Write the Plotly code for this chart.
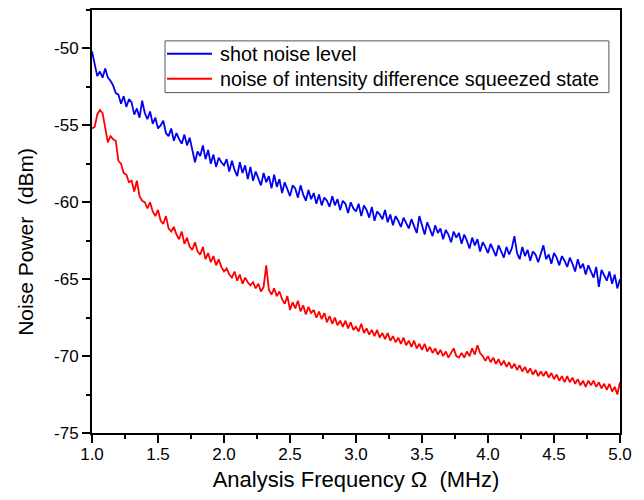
import plotly.graph_objects as go

freq = [round(1.0 + 0.02 * i, 2) for i in range(201)]

shot_noise = [
    -50.2, -51.0, -51.8, -51.5, -51.9, -51.3, -51.9, -52.1, -52.4, -52.9,
    -53.0, -53.6, -53.1, -53.8, -53.3, -53.5, -54.3, -53.9, -54.5, -53.4,
    -54.2, -54.6, -54.1, -54.9, -54.5, -55.2, -55.0, -54.7, -55.5, -55.7,
    -55.2, -56.0, -55.5, -55.9, -56.2, -55.6, -56.3, -55.8, -56.6, -57.4,
    -56.7, -57.0, -56.3, -57.2, -56.6, -57.5, -56.9, -57.7, -57.1, -57.4,
    -57.6, -57.2, -58.0, -57.3, -57.9, -58.3, -57.4, -58.1, -57.6, -58.5,
    -57.7, -58.6, -58.0, -58.4, -58.9, -58.1, -58.7, -58.3, -59.1, -58.2,
    -59.0, -58.5, -59.4, -58.7, -59.2, -59.6, -58.9, -59.1, -59.7, -58.9,
    -59.5, -59.9, -59.2, -59.8, -59.4, -60.1, -59.5, -60.2, -59.7, -59.9,
    -60.3, -59.6, -60.2, -59.8, -60.5, -59.9, -60.1, -60.7, -60.0, -60.4,
    -60.6, -60.1, -60.9, -60.2, -60.5, -61.0, -60.3, -61.2, -60.6, -60.8,
    -61.1, -60.5, -61.3, -60.8, -61.5, -60.9, -61.2, -61.6, -61.0, -61.4,
    -61.7, -61.1, -61.5, -62.0, -60.9, -61.6, -62.1, -61.3, -61.8, -62.2,
    -61.5, -62.0, -61.7, -62.4, -61.8, -62.1, -62.6, -61.9, -62.3, -62.0,
    -62.7, -62.1, -62.5, -63.0, -62.3, -62.8, -62.4, -63.2, -62.6, -62.9,
    -63.3, -62.7, -63.1, -63.5, -62.8, -63.2, -63.6, -62.9, -63.4, -63.0,
    -62.2, -63.3, -63.7, -62.9, -63.5, -63.1, -63.8, -63.2, -63.4, -63.9,
    -63.3, -62.8, -63.7, -63.4, -64.0, -63.3, -63.6, -64.1, -63.5, -63.8,
    -64.2, -63.6, -64.0, -64.5, -63.7, -64.3, -64.0, -64.7, -64.1, -64.5,
    -64.9, -64.2, -65.5, -64.4, -64.8, -65.1, -64.5, -65.3, -64.7, -65.6,
    -65.0,
]

squeezed = [
    -55.2, -55.1, -54.3, -54.0, -54.2, -55.3, -56.1, -55.7, -55.9, -56.0,
    -57.3, -57.5, -58.1, -58.2, -58.7, -58.6, -59.3, -58.6, -59.6, -59.9,
    -60.0, -60.4, -60.0, -60.6, -60.9, -60.5, -61.2, -61.4, -60.9, -61.7,
    -61.9, -61.6, -62.1, -62.4, -61.9, -62.7, -62.3, -62.9, -63.1, -62.6,
    -63.2, -63.4, -62.9, -63.7, -63.3, -63.9, -63.5, -64.1, -63.7, -64.2,
    -64.5, -64.3, -64.7, -64.9, -64.5, -65.1, -64.7, -65.3, -64.9, -65.2,
    -65.4, -65.2, -65.6, -65.3, -65.8, -65.5, -64.1, -65.7, -66.0, -65.6,
    -66.1, -65.8, -66.3, -66.6, -66.1, -67.0, -66.5, -66.9, -66.4, -67.1,
    -66.7, -67.3, -66.8, -67.2, -67.0, -67.5, -67.1, -67.6, -67.2, -67.8,
    -67.4, -67.9, -67.5, -68.0, -67.7, -68.1, -67.7, -68.2, -67.8, -68.3,
    -68.1, -68.4, -67.9, -68.5, -68.2, -68.6, -68.3, -68.7, -68.3, -68.8,
    -68.5, -68.9, -68.5, -69.0, -68.7, -69.1, -68.8, -69.2, -68.8, -69.3,
    -69.0, -69.4, -69.0, -69.5, -69.2, -69.6, -69.2, -69.7, -69.4, -69.8,
    -69.5, -69.9, -69.6, -70.0, -69.7, -70.1, -69.8, -69.5, -70.0, -70.1,
    -69.8, -70.1, -69.7, -70.0, -69.5, -69.9, -69.3, -69.8, -70.0, -70.3,
    -70.0, -70.4, -70.1, -70.5, -70.2, -70.6, -70.3, -70.7, -70.4, -70.8,
    -70.5, -70.9, -70.6, -71.0, -70.7, -71.1, -70.8, -71.2, -70.9, -71.3,
    -71.0, -71.3, -71.0, -71.4, -71.1, -71.5, -71.2, -71.6, -71.3, -71.7,
    -71.3, -71.7, -71.4, -71.8, -71.5, -71.9, -71.6, -72.0, -71.6, -71.9,
    -71.6, -72.0, -71.7, -72.1, -71.8, -72.2, -71.8, -72.3, -72.0, -72.5,
    -71.7,
]

series_names = ["shot noise level", "noise of intensity difference squeezed state"]
series_colors = ["#0000ee", "#ff0000"]

x_ticks = [1.0, 1.5, 2.0, 2.5, 3.0, 3.5, 4.0, 4.5, 5.0]
x_labels = ["1.0", "1.5", "2.0", "2.5", "3.0", "3.5", "4.0", "4.5", "5.0"]
y_ticks = [-75, -70, -65, -60, -55, -50]
y_labels = ["-75", "-70", "-65", "-60", "-55", "-50"]

x_title = "Analysis Frequency Ω  (MHz)"
y_title = "Noise Power  (dBm)"

font_family = "Liberation Sans, Arial, sans-serif"

fig = go.Figure()
for name, ys, col in zip(series_names, [shot_noise, squeezed], series_colors):
    fig.add_trace(go.Scatter(x=freq, y=ys, mode="lines", name=name,
                             line=dict(color=col, width=1.8), showlegend=False))

# legend box drawn in paper coordinates
box_x0, box_x1, box_y0, box_y1 = 0.1383, 0.979, 0.8047, 0.927
row_y = [0.8965, 0.8376]
sample_x0, sample_x1, text_x = 0.142, 0.2273, 0.2386
shapes = [dict(type="rect", xref="paper", yref="paper",
               x0=box_x0, x1=box_x1, y0=box_y0, y1=box_y1,
               line=dict(color="#555555", width=1), fillcolor="white", layer="above")]
annotations = []
for name, col, ry in zip(series_names, series_colors, row_y):
    shapes.append(dict(type="line", xref="paper", yref="paper",
                       x0=sample_x0, x1=sample_x1, y0=ry, y1=ry,
                       line=dict(color=col, width=2), layer="above"))
    annotations.append(dict(xref="paper", yref="paper", x=text_x, y=ry,
                            xanchor="left", yanchor="middle", showarrow=False,
                            text=name, font=dict(size=19.8, family=font_family)))

# y-axis title placed as rotated text
annotations.append(dict(xref="paper", yref="paper", x=-0.125, y=0.452,
                        xanchor="center", yanchor="middle", showarrow=False,
                        textangle=-90, text=y_title,
                        font=dict(size=21, family=font_family)))

fig.update_layout(
    width=644, height=500,
    margin=dict(l=84, r=32, t=0, b=75),
    paper_bgcolor="white", plot_bgcolor="white",
    font=dict(family=font_family, color="black", size=17),
    showlegend=False,
    shapes=shapes,
    annotations=annotations,
)
fig.update_xaxes(
    range=[1.0, 5.0], showgrid=False, zeroline=False,
    showline=True, linecolor="black", linewidth=2, mirror=True,
    ticks="outside", ticklen=8, tickwidth=1.5, tickcolor="black",
    tickvals=x_ticks, ticktext=x_labels,
    tickfont=dict(size=17), ticklabelstandoff=-3,
    minor=dict(ticks="outside", ticklen=4, tickwidth=1.5, tickcolor="black",
               dtick=0.25, tick0=1.0, showgrid=False),
    title=dict(text=x_title, font=dict(size=22), standoff=8),
)
fig.update_yaxes(
    range=[-75, -47.5], showgrid=False, zeroline=False,
    showline=True, linecolor="black", linewidth=2, mirror=True,
    ticks="outside", ticklen=8, tickwidth=1.5, tickcolor="black",
    tickvals=y_ticks, ticktext=y_labels,
    tickfont=dict(size=17),
    minor=dict(ticks="outside", ticklen=4, tickwidth=1.5, tickcolor="black",
               dtick=2.5, tick0=-75, showgrid=False),
)

fig.write_html("out.html")
